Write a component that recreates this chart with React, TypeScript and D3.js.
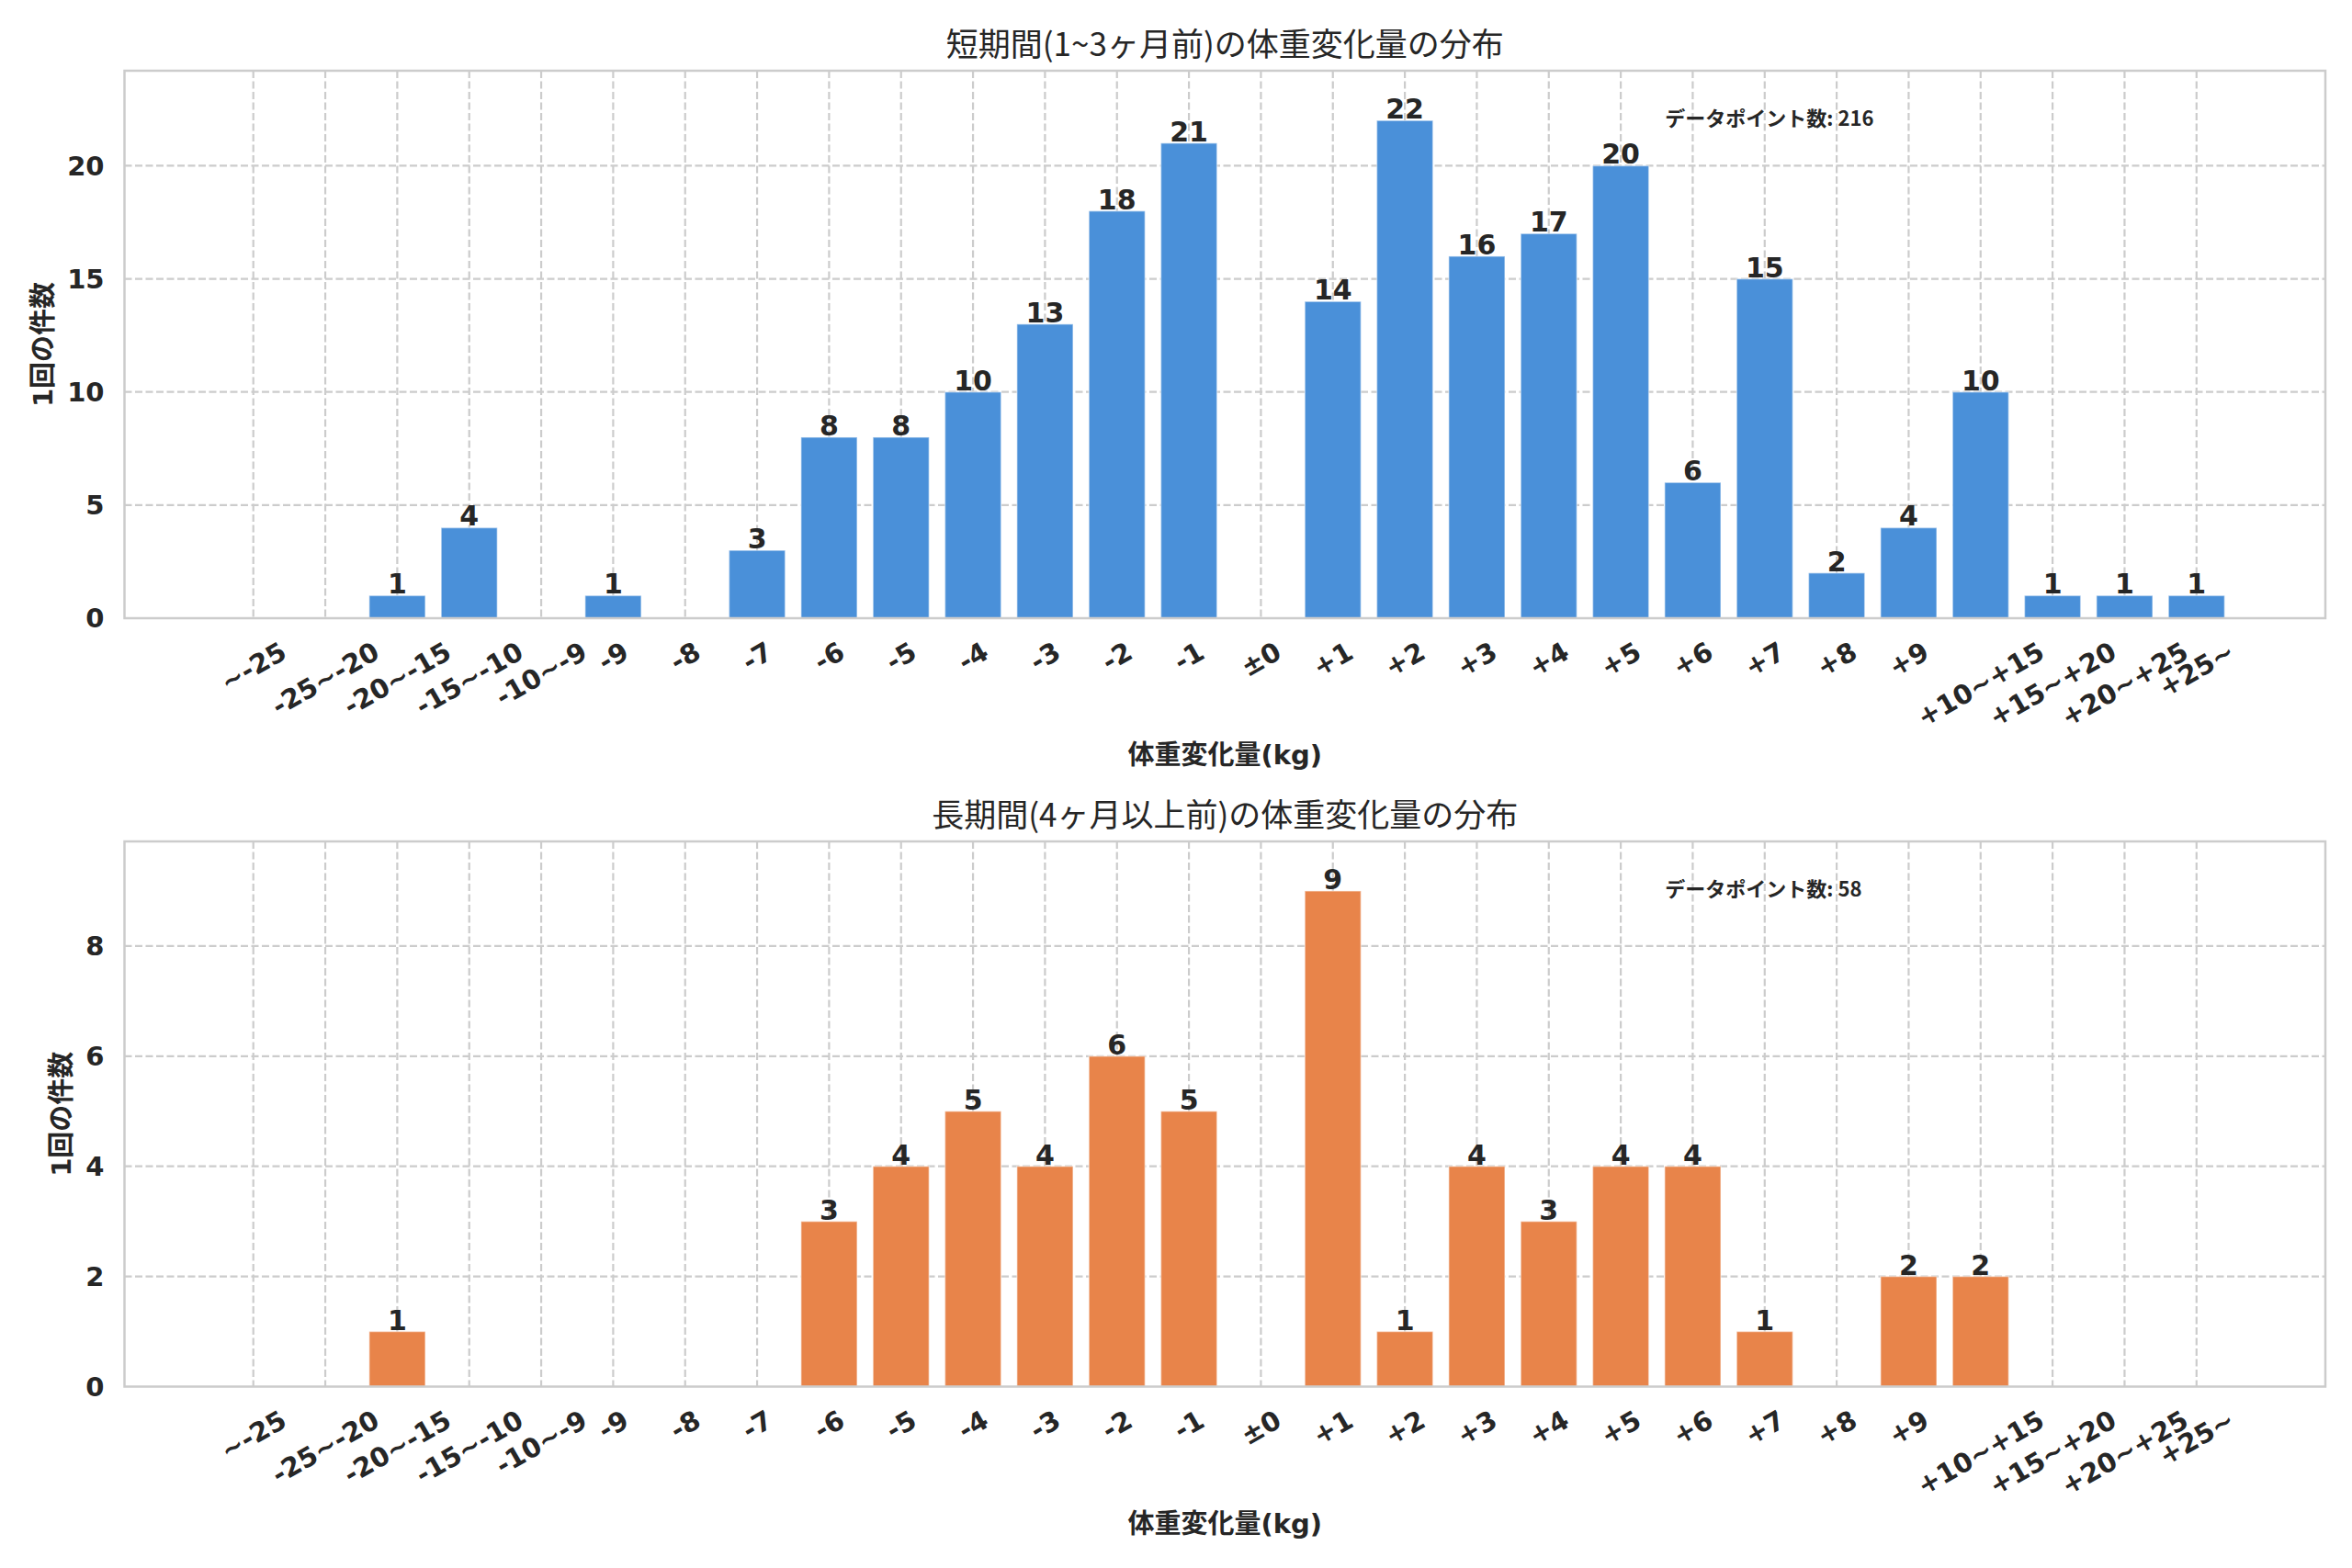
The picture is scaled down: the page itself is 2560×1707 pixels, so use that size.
import { useEffect, useRef } from 'react';
import * as d3 from 'd3';

// weight-change bins and counts
const categories = [
  '~-25', '-25~-20', '-20~-15', '-15~-10', '-10~-9', '-9', '-8', '-7', '-6', '-5',
  '-4', '-3', '-2', '-1', '±0', '+1', '+2', '+3', '+4', '+5', '+6', '+7', '+8', '+9',
  '+10~+15', '+15~+20', '+20~+25', '+25~',
];
const shortTermCounts = [0, 0, 1, 4, 0, 1, 0, 3, 8, 8, 10, 13, 18, 21, 0, 14, 22, 16, 17, 20, 6, 15, 2, 4, 10, 1, 1, 1];
const longTermCounts = [0, 0, 1, 0, 0, 0, 0, 0, 3, 4, 5, 4, 6, 5, 0, 9, 1, 4, 3, 4, 4, 1, 0, 2, 2, 0, 0, 0];
const shortTermTicks = [0, 5, 10, 15, 20];
const longTermTicks = [0, 2, 4, 6, 8];

const shortTermTitle = '短期間(1~3ヶ月前)の体重変化量の分布';
const longTermTitle = '長期間(4ヶ月以上前)の体重変化量の分布';
const xLabel = '体重変化量(kg)';
const yLabel = '1回の件数';
const totalLabel = 'データポイント数';

const WIDTH = 2560;
const HEIGHT = 1707;
const TEXT = '#262626';
const GRID = '#cccccc';
const tickFont = '"DejaVu Sans", "Noto Sans CJK JP", sans-serif';
const jpFont = '"Noto Sans CJK JP", "DejaVu Sans", sans-serif';

type Panel = {
  values: number[];
  ticks: number[];
  color: string;
  title: string;
  top: number;
  bottom: number;
};

function drawPanel(svg: d3.Selection<SVGSVGElement, unknown, null, undefined>, p: Panel) {
  const left = 135.5;
  const right = 2531;
  const n = categories.length;
  const pad = 0.05 * (n - 0.2);

  const x = d3.scaleLinear().domain([-0.4 - pad, n - 0.6 + pad]).range([left, right]);
  const y = d3
    .scaleLinear()
    .domain([0, (d3.max(p.values) || 0) * 1.1])
    .range([p.bottom, p.top]);

  const g = svg.append('g');

  // grid
  g.selectAll('.hgrid')
    .data(p.ticks.filter((t) => t > 0))
    .enter()
    .append('line')
    .attr('x1', left)
    .attr('x2', right)
    .attr('y1', (d) => y(d))
    .attr('y2', (d) => y(d))
    .attr('stroke', GRID)
    .attr('stroke-width', 2.2)
    .attr('stroke-dasharray', '8 3.5');

  g.selectAll('.vgrid')
    .data(categories)
    .enter()
    .append('line')
    .attr('x1', (_, i) => x(i))
    .attr('x2', (_, i) => x(i))
    .attr('y1', p.top)
    .attr('y2', p.bottom)
    .attr('stroke', GRID)
    .attr('stroke-width', 2.2)
    .attr('stroke-dasharray', '8 3.5');

  // bars
  const bw = x(0.78) - x(0);
  g.selectAll('.bar')
    .data(p.values)
    .enter()
    .append('rect')
    .attr('x', (_, i) => x(i) - bw / 2)
    .attr('y', (d) => y(d))
    .attr('width', bw)
    .attr('height', (d) => y(0) - y(d))
    .attr('fill', p.color)
    .attr('stroke', 'rgba(255,255,255,0.45)')
    .attr('stroke-width', 1.5);

  // bar value labels
  g.selectAll('.vlabel')
    .data(p.values.map((v, i) => ({ v, i })).filter((d) => d.v > 0))
    .enter()
    .append('text')
    .attr('x', (d) => x(d.i))
    .attr('y', (d) => y(d.v) - 2)
    .attr('text-anchor', 'middle')
    .attr('font-family', tickFont)
    .attr('font-weight', 'bold')
    .attr('font-size', 30)
    .attr('fill', TEXT)
    .text((d) => d.v);

  // spines
  g.append('rect')
    .attr('x', left)
    .attr('y', p.top)
    .attr('width', right - left)
    .attr('height', p.bottom - p.top)
    .attr('fill', 'none')
    .attr('stroke', '#cccccc')
    .attr('stroke-width', 2.5);

  const fs = 29;

  // y ticks
  const yt = g
    .selectAll('.ytick')
    .data(p.ticks)
    .enter()
    .append('text')
    .attr('x', left - 22)
    .attr('y', (d) => y(d))
    .attr('dy', '0.36em')
    .attr('text-anchor', 'end')
    .attr('font-family', tickFont)
    .attr('font-weight', 'bold')
    .attr('font-size', fs)
    .attr('fill', TEXT)
    .text((d) => d);

  let maxTickW = 0;
  yt.each(function () {
    maxTickW = Math.max(maxTickW, (this as SVGTextElement).getComputedTextLength());
  });

  // x ticks, rotated 30deg, bbox centred under the tick
  const boxH = 1.164 * fs;
  const rad = Math.PI / 6;
  g.selectAll('.xtick')
    .data(categories)
    .enter()
    .append('text')
    .attr('text-anchor', 'middle')
    .attr('font-family', tickFont)
    .attr('font-weight', 'bold')
    .attr('font-size', fs)
    .attr('fill', TEXT)
    .text((d) => d)
    .each(function (_, i) {
      const el = this as SVGTextElement;
      const w = el.getComputedTextLength();
      const rotH = w * Math.sin(rad) + boxH * Math.cos(rad);
      const cx = x(i);
      const cy = p.bottom + 19 + rotH / 2;
      d3.select(el)
        .attr('x', 0)
        .attr('y', 0.346 * fs)
        .attr('transform', `translate(${cx},${cy}) rotate(-30)`);
    });

  // title
  g.append('text')
    .attr('x', (left + right) / 2)
    .attr('y', p.top - 16)
    .attr('text-anchor', 'middle')
    .attr('font-family', jpFont)
    .attr('font-size', 35)
    .attr('fill', TEXT)
    .text(p.title);

  // x axis label
  g.append('text')
    .attr('x', (left + right) / 2)
    .attr('y', p.bottom + 149)
    .attr('dy', '0.35em')
    .attr('text-anchor', 'middle')
    .attr('font-family', tickFont)
    .attr('font-weight', 'bold')
    .attr('font-size', 29)
    .attr('fill', TEXT)
    .text(xLabel);

  // y axis label
  const ly = (p.top + p.bottom) / 2;
  const lx = left - 22 - maxTickW - 26;
  g.append('text')
    .attr('transform', `translate(${lx},${ly}) rotate(-90)`)
    .attr('dy', '0.35em')
    .attr('text-anchor', 'middle')
    .attr('font-family', tickFont)
    .attr('font-weight', 'bold')
    .attr('font-size', 29)
    .attr('fill', TEXT)
    .text(yLabel);

  // total annotation
  g.append('text')
    .attr('x', left + 0.7 * (right - left))
    .attr('y', p.top + 60)
    .attr('font-family', jpFont)
    .attr('font-weight', 'bold')
    .attr('font-size', 22)
    .attr('fill', TEXT)
    .text(`${totalLabel}: ${d3.sum(p.values)}`);
}

export default function App() {
  const svgRef = useRef<SVGSVGElement>(null);

  useEffect(() => {
    if (!svgRef.current) return;
    document.body.style.margin = '0';
    const svg = d3.select(svgRef.current);
    svg.selectAll('*').remove();

    svg.append('rect').attr('width', WIDTH).attr('height', HEIGHT).attr('fill', '#ffffff');

    drawPanel(svg, {
      values: shortTermCounts,
      ticks: shortTermTicks,
      color: '#4a90d9',
      title: shortTermTitle,
      top: 77,
      bottom: 673,
    });
    drawPanel(svg, {
      values: longTermCounts,
      ticks: longTermTicks,
      color: '#e8844a',
      title: longTermTitle,
      top: 916,
      bottom: 1509.5,
    });
  }, []);

  return (
    <div style={{ position: 'absolute', left: 0, top: 0 }}>
      <svg
        ref={svgRef}
        width={WIDTH}
        height={HEIGHT}
        viewBox={`0 0 ${WIDTH} ${HEIGHT}`}
        style={{ display: 'block' }}
      />
    </div>
  );
}
